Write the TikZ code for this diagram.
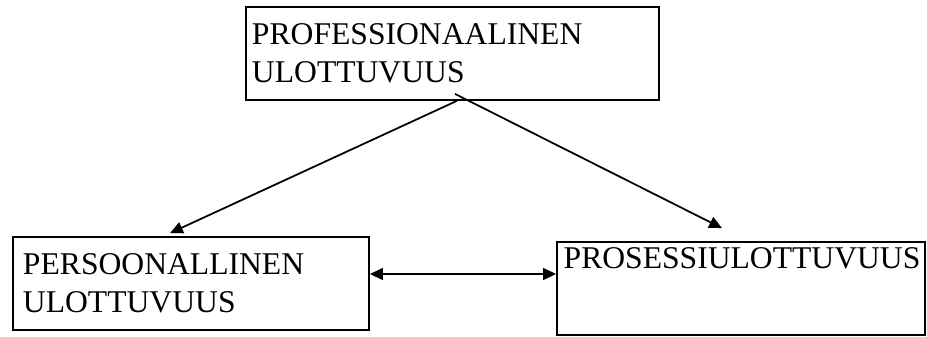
\documentclass[tikz,border=0pt]{standalone}
\usepackage{fontspec}
\setmainfont{Liberation Serif}
\usetikzlibrary{arrows.meta}

\begin{document}
\begin{tikzpicture}[x=0.03cm, y=-0.03cm,
    box/.style={draw, line width=1.5pt, align=left, minimum height=2.79cm,
        font=\fontsize{27}{32}\selectfont},
    link/.style={line width=1.5pt, >={Triangle[length=11pt, width=10pt]}}]
    \useasboundingbox (0,0) rectangle (927,336);

    \node[box, text width=12.03cm, inner xsep=0.18cm] (prof) at (452.5,53.5) {PROFESSIONAALINEN\\ULOTTUVUUS};
    \node[box, text width=10.08cm, inner xsep=0.3cm] (pers) at (191,283.5) {PERSOONALLINEN\\ULOTTUVUUS};
    \node[box, text width=10.64cm, inner xsep=0.2cm, inner ysep=0.06cm,
        text height=0.74cm, text depth=1.93cm] (pros) at (741,288.5) {PROSESSIULOTTUVUUS};

    \draw[link, ->] ([xshift=0.13cm]prof.south) -- ([xshift=-0.63cm, yshift=0.09cm]pers.north);
    \draw[link, ->] ([xshift=0.075cm, yshift=0.21cm]prof.south) -- ([xshift=-0.57cm, yshift=0.39cm]pros.north);
    \draw[link, <->] ([yshift=0.285cm]pers.east) -- ([yshift=0.285cm]pers.east -| pros.west);
\end{tikzpicture}
\end{document}
